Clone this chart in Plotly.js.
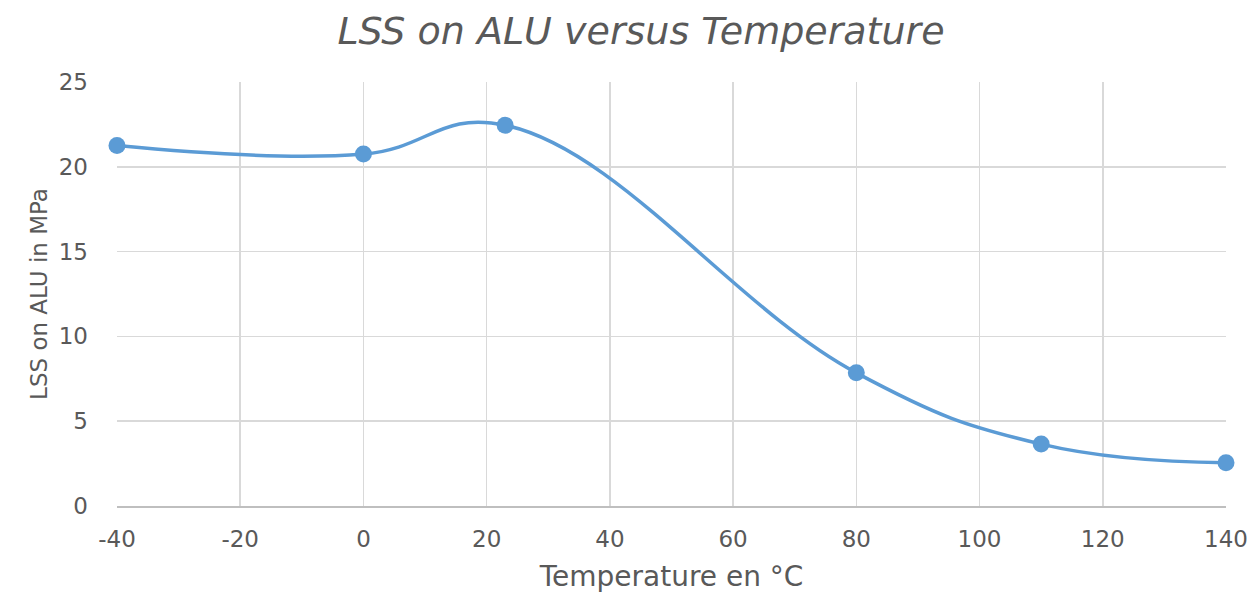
<!DOCTYPE html>
<html>
<head>
<meta charset="utf-8">
<script src="https://cdn.plot.ly/plotly-3.0.1.min.js"></script>
<style>html,body{margin:0;padding:0;background:#fff;}#chart{width:1253px;height:593px;}</style>
</head>
<body>
<div id="chart"></div>
<script>
const temperatures = [-40, 0, 23, 80, 110, 140];
const lssValues = [21.25, 20.75, 22.45, 7.85, 3.65, 2.55];
const xTicks = [-40, -20, 0, 20, 40, 60, 80, 100, 120, 140];
const yTicks = [0, 5, 10, 15, 20, 25];

const blue = '#5b9bd5';
const textGray = '#595959';
const gridGray = '#d9d9d9';
const font = 'DejaVu Sans, sans-serif';

const trace = {
  x: temperatures,
  y: lssValues,
  type: 'scatter',
  mode: 'lines+markers',
  line: {color: blue, width: 3.5, shape: 'spline', smoothing: 1.2},
  marker: {color: blue, size: 17},
  cliponaxis: false,
  hoverinfo: 'x+y'
};

const layout = {
  width: 1253,
  height: 593,
  margin: {l: 117, r: 27, t: 82, b: 87},
  paper_bgcolor: '#fff',
  plot_bgcolor: '#fff',
  showlegend: false,
  title: {
    text: 'LSS on ALU versus Temperature',
    font: {family: font, size: 38, color: textGray, style: 'italic'},
    x: 641 / 1253,
    xanchor: 'center',
    y: 1 - 31 / 593,
    yanchor: 'middle'
  },
  xaxis: {
    range: [-40, 140],
    tickvals: xTicks,
    ticktext: xTicks.map(String),
    showgrid: true,
    gridcolor: gridGray,
    gridwidth: 1.5,
    zeroline: false,
    showline: true,
    linecolor: '#bfbfbf',
    linewidth: 1.5,
    ticks: '',
    ticklabelstandoff: 12,
    tickfont: {family: font, size: 23, color: textGray},
    title: {text: 'Temperature en °C', font: {family: font, size: 28, color: textGray}, standoff: 20}
  },
  yaxis: {
    range: [0, 25],
    tickvals: yTicks,
    ticktext: yTicks.map(String),
    showgrid: true,
    gridcolor: gridGray,
    gridwidth: 1.5,
    zeroline: false,
    showline: false,
    ticks: '',
    ticklabelstandoff: 28,
    tickfont: {family: font, size: 23, color: textGray},
    title: {text: 'LSS on ALU in MPa', font: {family: font, size: 23, color: textGray}, standoff: 4}
  }
};

Plotly.newPlot('chart', [trace], layout, {displayModeBar: false, staticPlot: true});
</script>
</body>
</html>
